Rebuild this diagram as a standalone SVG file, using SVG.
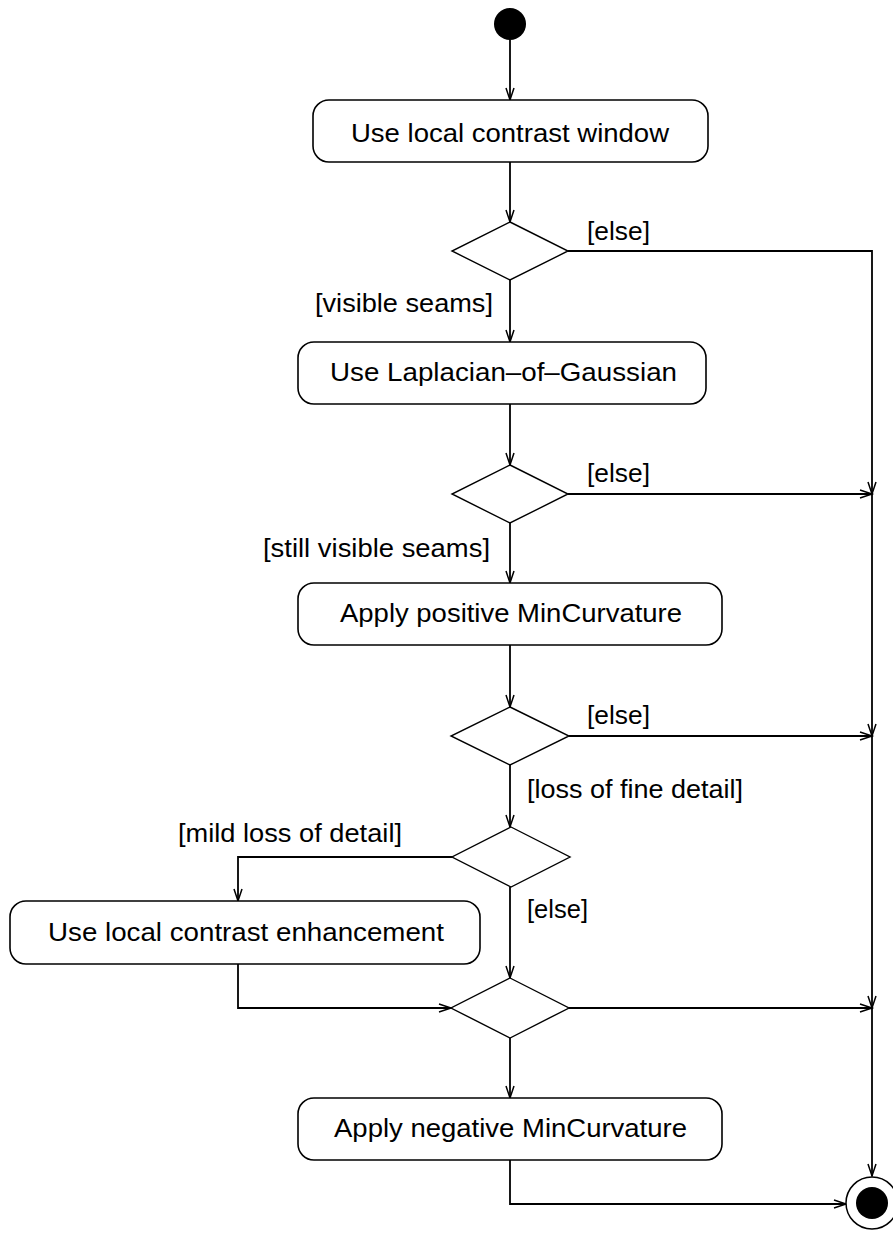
<svg xmlns="http://www.w3.org/2000/svg" width="893" height="1234" viewBox="0 0 893 1234">
<style>
.act{fill:#fff;stroke:#000;stroke-width:1.6}
.dec{fill:#fff;stroke:#000;stroke-width:1.4}
.edge{fill:none;stroke:#000;stroke-width:1.8}
text{font-family:"Liberation Sans",Arial,sans-serif;font-size:25px;fill:#000}
.c{text-anchor:middle}
</style>
<defs>
<marker id="arr" markerWidth="16" markerHeight="12" refX="13" refY="5" orient="auto" markerUnits="userSpaceOnUse">
<path d="M1,1 L13,5 L1,9" fill="none" stroke="#000" stroke-width="1.5"/>
</marker>
</defs>
<rect width="893" height="1234" fill="#fff"/>

<g id="connectors">
<path class="edge" d="M510,40 V100" marker-end="url(#arr)"/>
<path class="edge" d="M510,162 V222" marker-end="url(#arr)"/>
<path class="edge" d="M510,280 V342" marker-end="url(#arr)"/>
<path class="edge" d="M568,251 H872 V494" marker-end="url(#arr)"/>
<path class="edge" d="M510,404 V465" marker-end="url(#arr)"/>
<path class="edge" d="M510,523 V583" marker-end="url(#arr)"/>
<path class="edge" d="M568,494 H872" marker-end="url(#arr)"/>
<path class="edge" d="M872,494 V736" marker-end="url(#arr)"/>
<path class="edge" d="M510,645 V707" marker-end="url(#arr)"/>
<path class="edge" d="M569,736 H872" marker-end="url(#arr)"/>
<path class="edge" d="M510,765 V827" marker-end="url(#arr)"/>
<path class="edge" d="M452,857 H238 V901" marker-end="url(#arr)"/>
<path class="edge" d="M510,887 V978" marker-end="url(#arr)"/>
<path class="edge" d="M238,964 V1008 H451" marker-end="url(#arr)"/>
<path class="edge" d="M569,1008 H872" marker-end="url(#arr)"/>
<path class="edge" d="M872,736 V1008" marker-end="url(#arr)"/>
<path class="edge" d="M872,1008 V1176" marker-end="url(#arr)"/>
<path class="edge" d="M510,1038 V1098" marker-end="url(#arr)"/>
<path class="edge" d="M510,1160 V1204 H846" marker-end="url(#arr)"/>
</g>

<g id="labels">
<text x="587" y="240" textLength="63" lengthAdjust="spacingAndGlyphs">[else]</text>
<text x="315" y="312" textLength="178" lengthAdjust="spacingAndGlyphs">[visible seams]</text>
<text x="587" y="482" textLength="63" lengthAdjust="spacingAndGlyphs">[else]</text>
<text x="263" y="557" textLength="227" lengthAdjust="spacingAndGlyphs">[still visible seams]</text>
<text x="587" y="724" textLength="63" lengthAdjust="spacingAndGlyphs">[else]</text>
<text x="527" y="798" textLength="216" lengthAdjust="spacingAndGlyphs">[loss of fine detail]</text>
<text x="178" y="842" textLength="224" lengthAdjust="spacingAndGlyphs">[mild loss of detail]</text>
<text x="527" y="918" textLength="61" lengthAdjust="spacingAndGlyphs">[else]</text>
</g>

<g id="start"><circle cx="510" cy="24" r="16" fill="#000"/></g>

<g id="useLocalContrastWindow">
<rect class="act" x="313" y="100" width="395" height="62" rx="16"/>
<text x="351" y="142" textLength="318" lengthAdjust="spacingAndGlyphs">Use local contrast window</text>
</g>

<g id="decision1"><polygon class="dec" points="510,222 568,251 510,280 452,251"/></g>

<g id="useLoG">
<rect class="act" x="298" y="342" width="408" height="62" rx="16"/>
<text x="330" y="381" textLength="347" lengthAdjust="spacingAndGlyphs">Use Laplacian–of–Gaussian</text>
</g>

<g id="decision2"><polygon class="dec" points="510,465 568,494 510,523 452,494"/></g>

<g id="applyPositive">
<rect class="act" x="298" y="583" width="424" height="62" rx="16"/>
<text x="340" y="622" textLength="342" lengthAdjust="spacingAndGlyphs">Apply positive MinCurvature</text>
</g>

<g id="decision3"><polygon class="dec" points="510,707 569,736 510,765 451,736"/></g>

<g id="decision4"><polygon class="dec" points="511,827 570,857 511,887 452,857"/></g>

<g id="useLocalContrastEnhancement">
<rect class="act" x="10" y="901" width="470" height="63" rx="16"/>
<text x="48" y="941" textLength="396" lengthAdjust="spacingAndGlyphs">Use local contrast enhancement</text>
</g>

<g id="decision5"><polygon class="dec" points="510,978 569,1008 510,1038 451,1008"/></g>

<g id="applyNegative">
<rect class="act" x="298" y="1098" width="424" height="62" rx="16"/>
<text x="334" y="1137" textLength="353" lengthAdjust="spacingAndGlyphs">Apply negative MinCurvature</text>
</g>

<g id="end">
<circle cx="872" cy="1203" r="26" fill="#fff" stroke="#000" stroke-width="1.5"/>
<circle cx="872" cy="1203" r="16" fill="#000"/>
</g>
</svg>
